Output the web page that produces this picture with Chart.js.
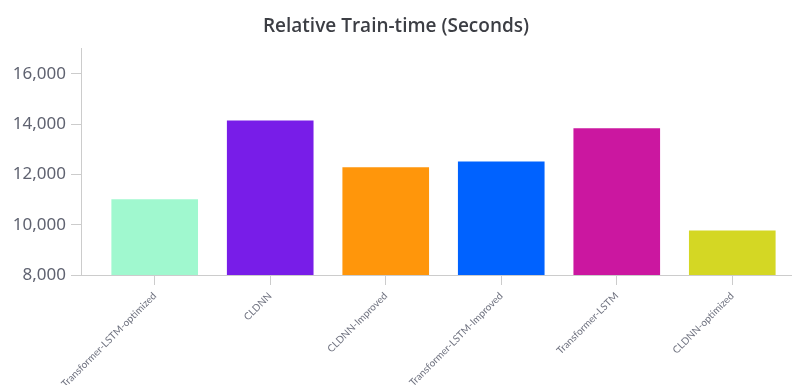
<!DOCTYPE html>
<html>
<head>
<meta charset="utf-8">
<script src="https://cdn.jsdelivr.net/npm/chart.js@4"></script>
<style>
  html, body { margin: 0; padding: 0; background: #fff; }
  #wrap { width: 792px; height: 385px; }
</style>
</head>
<body>
<div id="wrap"><canvas id="chartTrainTime"></canvas></div>
<script>
const modelos = [
    "Transformer-LSTM-optimized",
    "CLDNN",
    "CLDNN-Improved",
    "Transformer-LSTM-Improved",
    "Transformer-LSTM",
    "CLDNN-optimized"
];
const segundos = [11010, 14150, 12290, 12520, 13840, 9770];
const colores = ["#a0f8cf", "#781de8", "#ff960b", "#0062ff", "#cb17a0", "#d4d724"];
const ticksY = [8000, 10000, 12000, 14000, 16000];

const colorEje = "#cccccc";
const colorTexto = "#5f6270";

const ctx = document.getElementById("chartTrainTime");

new Chart(ctx, {
    type: "bar",
    data: {
        datasets: [{
            data: segundos.map((v, i) => ({ x: i, y: v })),
            backgroundColor: colores,
            borderWidth: 0,
            barPercentage: 0.75,
            categoryPercentage: 1
        }]
    },
    options: {
        responsive: true,
        maintainAspectRatio: false,
        animation: false,
        layout: { padding: 0 },
        plugins: {
            legend: { display: false },
            tooltip: { enabled: false },
            title: {
                display: true,
                text: "Relative Train-time (Seconds)",
                color: "#3c3e44",
                font: { family: "Open Sans", size: 19, weight: "600" },
                padding: { top: 15, bottom: 11 }
            }
        },
        scales: {
            x: {
                // eje lineal para que la primera barra quede separada del eje Y
                type: "linear",
                bounds: "data",
                offset: false,
                min: -0.638,
                max: 5.517,
                afterBuildTicks: s => { s.ticks = modelos.map((_, i) => ({ value: i })); },
                afterFit: s => { s.height = 110; },
                border: { color: colorEje, width: 1 },
                grid: { offset: false, drawOnChartArea: false, drawTicks: true, tickLength: 10, color: colorEje },
                ticks: {
                    callback: v => modelos[v],
                    minRotation: 45,
                    maxRotation: 45,
                    padding: 5,
                    color: "#707380",
                    font: { family: "Lato", size: 10 }
                }
            },
            y: {
                min: 8000,
                max: 17000,
                afterBuildTicks: s => { s.ticks = ticksY.map(v => ({ value: v })); },
                afterFit: s => { s.width = 81; },
                border: { color: colorEje, width: 1 },
                grid: { drawOnChartArea: false, drawTicks: true, tickLength: 10, color: colorEje },
                ticks: {
                    callback: v => v.toLocaleString("en-US"),
                    padding: 5,
                    color: colorTexto,
                    font: { family: "Noto Sans", size: 17 }
                }
            }
        }
    }
});
</script>
</body>
</html>
